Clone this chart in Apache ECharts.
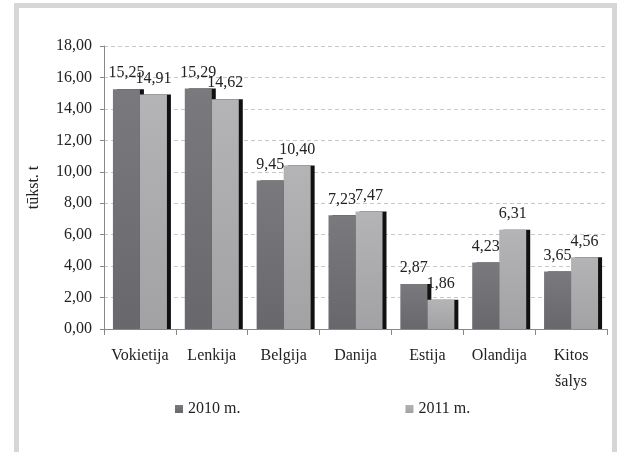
<!DOCTYPE html>
<html>
	<head>
		<meta charset="UTF-8">
		<title></title>
		<script src="https://cdn.jsdelivr.net/npm/echarts@6/dist/echarts.min.js"></script>
		<style type="text/css">
			body{
				margin: 0;
				background: #fff;
			}
			#chart{
				width: 617px;
				height: 452px;
			}
		</style>
	</head>
	<body>
		<div id="chart"></div>
		<script>
		var countries = ['Vokietija', 'Lenkija', 'Belgija', 'Danija', 'Estija', 'Olandija', 'Kitos\nšalys']
		var y2010 = [15.25, 15.29, 9.45, 7.23, 2.87, 4.23, 3.65]
		var y2011 = [14.91, 14.62, 10.40, 7.47, 1.86, 6.31, 4.56]
		var seriesNames = ['2010 m.', '2011 m.']

		var font = 'Liberation Serif'
		function fmt(v){
			return v.toFixed(2).replace('.', ',')
		}
		function grad(a, b){
			return new echarts.graphic.LinearGradient(0, 0, 0, 1, [
				{offset: 0, color: a},
				{offset: 1, color: b}
			])
		}

		var myChart = echarts.init(document.getElementById('chart'))
		var option = {
			animation: false,
			textStyle: {fontFamily: font},
			graphic: [
				{
					type: 'rect',
					z: 1,
					shape: {x: 16.5, y: 5.5, width: 598, height: 460},
					style: {fill: 'none', stroke: '#d6d6d6', lineWidth: 5}
				}
			],
			grid: {
				left: 104,
				right: 10,
				top: 46,
				bottom: 123
			},
			legend: {
				bottom: 30,
				left: 170,
				itemGap: 165,
				itemWidth: 8,
				itemHeight: 8,
				icon: 'rect',
				textStyle: {fontFamily: font, fontSize: 16, color: '#222'},
				data: seriesNames
			},
			xAxis: {
				type: 'category',
				data: countries,
				axisLine: {show: true, lineStyle: {color: '#888'}},
				axisTick: {show: true, length: 6, lineStyle: {color: '#888'}},
				axisLabel: {
					interval: 0,
					fontFamily: font,
					fontSize: 16,
					color: '#222',
					margin: 14,
					lineHeight: 26
				}
			},
			yAxis: {
				type: 'value',
				min: 0,
				max: 18,
				interval: 2,
				name: 'tūkst. t',
				nameLocation: 'middle',
				nameGap: 62,
				nameRotate: 90,
				nameTextStyle: {fontFamily: font, fontSize: 16, color: '#222'},
				axisLine: {show: true, lineStyle: {color: '#888'}},
				axisTick: {show: true, length: 4, lineStyle: {color: '#888'}},
				axisLabel: {
					fontFamily: font,
					fontSize: 16,
					color: '#222',
					margin: 12,
					formatter: function(v){ return fmt(v) }
				},
				splitLine: {lineStyle: {color: '#c8c8c8', type: [4, 3]}}
			},
			series: [
				{
					name: seriesNames[0],
					type: 'bar',
					data: y2010,
					barWidth: 27,
					barGap: '0%',
					itemStyle: {
						color: grad('#7a7a7e', '#68686c'),
						shadowColor: '#111',
						shadowBlur: 0,
						shadowOffsetX: 4,
						shadowOffsetY: 0
					},
					label: {
						show: true,
						position: 'top',
						distance: 8,
						fontFamily: font,
						fontSize: 16,
						color: '#222',
						formatter: function(p){ return fmt(p.value) }
					}
				},
				{
					name: seriesNames[1],
					type: 'bar',
					data: y2011,
					barWidth: 27,
					barGap: '0%',
					itemStyle: {
						color: grad('#b4b4b6', '#a2a2a4'),
						shadowColor: '#111',
						shadowBlur: 0,
						shadowOffsetX: 4,
						shadowOffsetY: 0
					},
					label: {
						show: true,
						position: 'top',
						distance: 8,
						fontFamily: font,
						fontSize: 16,
						color: '#222',
						formatter: function(p){ return fmt(p.value) }
					}
				}
			]
		}
		myChart.setOption(option)
		</script>
	</body>
</html>
